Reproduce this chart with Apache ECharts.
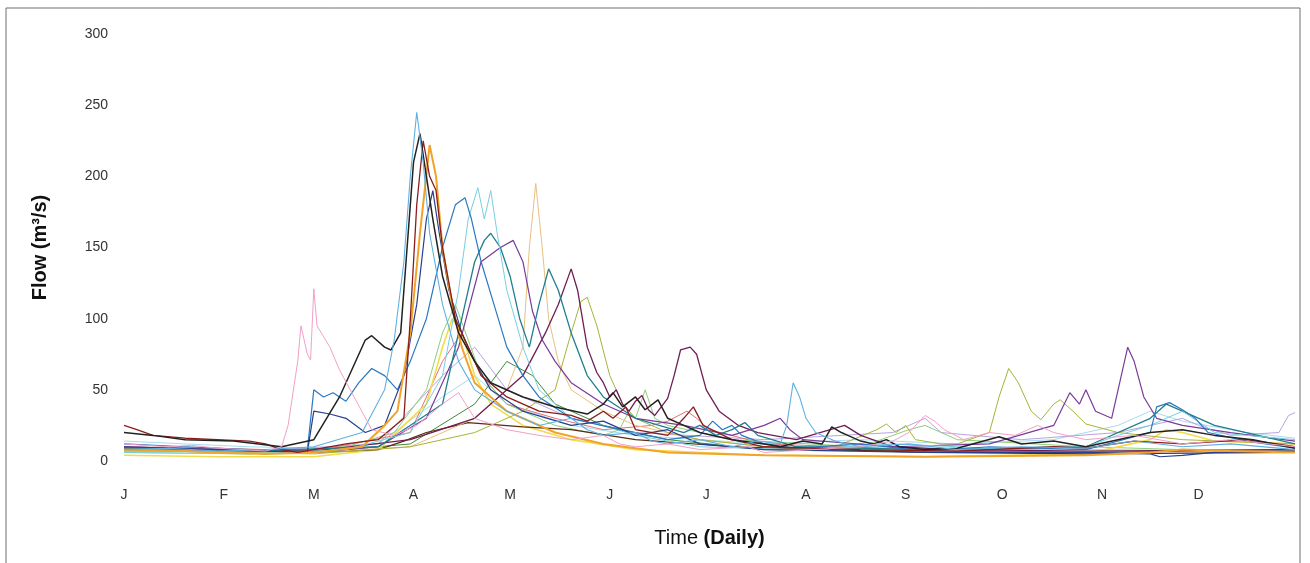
<!DOCTYPE html>
<html>
<head>
<meta charset="utf-8">
<title>Daily flow</title>
<script src="https://cdn.jsdelivr.net/npm/echarts@6/dist/echarts.min.js"></script>
<style>
  html, body { margin: 0; padding: 0; background: #fff; }
  #chart { width: 1310px; height: 563px; }
</style>
</head>
<body>
<div id="chart"></div>
<script>
// month tick labels (day of year where each month starts)
var monthStarts = [1, 32, 60, 91, 121, 152, 182, 213, 244, 274, 305, 335];
var monthLetters = ['J', 'F', 'M', 'A', 'M', 'J', 'J', 'A', 'S', 'O', 'N', 'D'];
var yTicks = [0, 50, 100, 150, 200, 250, 300];

// each year: [day of year, flow m3/s]
var pinkYear = [[1,12],[8,11],[15,10],[22,11],[30,9],[38,8],[45,7],[50,10],[52,25],[55,70],[56,95],[58,75],[59,71],[60,121],[61,95],[65,80],[68,64],[73,43],[78,22],[85,18],[92,25],[100,40],[105,48],[110,30],[120,22],[130,18],[140,15],[150,18],[155,12],[160,10],[170,12],[180,8],[195,10],[200,6],[215,8],[230,10],[240,14],[245,20],[250,32],[253,28],[256,22],[262,15],[270,20],[278,18],[285,25],[290,20],[300,15],[315,18],[330,12],[345,15],[365,10]];
var lightBlueYear = [[1,8],[15,9],[30,7],[45,8],[60,10],[75,20],[82,50],[85,85],[88,140],[90,200],[92,245],[94,210],[96,160],[100,110],[105,70],[110,50],[120,35],[130,25],[140,30],[145,22],[150,18],[160,20],[165,14],[170,12],[180,15],[190,10],[198,14],[205,12],[207,25],[209,55],[211,45],[213,30],[216,20],[222,14],[230,10],[245,12],[260,8],[280,10],[300,9],[315,14],[330,10],[345,12],[365,8]];
var blackYear = [[1,20],[10,18],[20,15],[35,14],[50,10],[60,15],[68,45],[72,65],[76,85],[78,88],[82,80],[84,78],[87,90],[89,150],[91,210],[93,230],[95,200],[97,170],[100,130],[105,90],[110,70],[115,55],[125,45],[135,38],[145,33],[150,40],[153,48],[156,38],[160,45],[163,36],[167,43],[170,30],[175,25],[180,20],[190,15],[200,12],[205,10],[212,14],[218,12],[221,24],[224,20],[226,18],[230,14],[234,12],[238,15],[242,10],[250,8],[260,9],[273,17],[280,12],[290,14],[300,10],[310,15],[320,20],[330,22],[340,18],[352,15],[365,9]];
var darkRedYear = [[1,25],[5,22],[10,18],[20,16],[30,15],[40,14],[45,12],[50,8],[55,6],[60,8],[70,12],[80,15],[88,30],[90,100],[92,180],[94,225],[96,200],[98,190],[100,150],[104,100],[108,80],[112,60],[120,45],[130,35],[140,32],[145,28],[150,35],[153,30],[157,38],[160,22],[170,18],[175,30],[178,38],[181,25],[190,15],[200,10],[230,8],[260,7],[290,10],[300,9],[315,14],[330,12],[350,15],[365,10]];
var orangeYear = [[1,8],[20,7],[30,6],[45,5],[60,6],[75,10],[82,25],[86,35],[90,90],[93,160],[96,222],[98,200],[100,150],[103,110],[106,80],[110,55],[120,35],[135,20],[150,12],[170,6],[200,4],[250,3],[300,4],[320,6],[330,8],[345,7],[365,6]];
var navyYear = [[1,10],[30,8],[58,6],[60,35],[65,33],[70,30],[76,20],[82,25],[88,60],[92,110],[95,170],[97,190],[99,160],[102,120],[106,90],[110,70],[115,50],[125,35],[140,25],[150,28],[160,18],[170,22],[180,12],[200,8],[250,6],[300,6],[320,5],[323,3],[330,4],[340,6],[365,7]];
var blueYear = [[1,12],[20,10],[40,8],[58,8],[60,50],[63,45],[66,48],[70,42],[74,55],[78,65],[82,60],[86,50],[90,70],[95,100],[100,150],[104,180],[107,185],[109,170],[112,140],[116,110],[120,80],[125,60],[130,45],[140,30],[155,22],[170,15],[180,18],[184,28],[187,22],[190,25],[193,18],[200,12],[210,9],[230,12],[250,7],[270,10],[300,8],[320,20],[322,38],[326,41],[330,36],[334,30],[338,20],[350,14],[365,9]];
var cyanYear = [[1,6],[40,5],[70,8],[90,20],[100,60],[105,120],[108,170],[111,192],[113,170],[115,190],[117,160],[120,120],[125,80],[130,50],[140,30],[150,25],[160,18],[180,10],[210,8],[240,12],[270,9],[300,10],[310,18],[320,25],[330,35],[340,20],[365,15]];
var tealYear = [[1,9],[40,7],[80,10],[100,40],[106,100],[110,140],[113,155],[115,160],[118,150],[121,130],[124,100],[127,80],[130,110],[133,135],[136,120],[140,90],[145,60],[150,45],[160,30],[175,20],[180,25],[185,18],[190,22],[194,27],[198,18],[210,10],[250,8],[300,10],[320,30],[325,40],[330,35],[340,25],[365,12]];
var purpleYear = [[1,10],[30,8],[60,6],[80,10],[95,30],[105,80],[112,140],[118,150],[122,155],[125,140],[128,105],[131,85],[135,70],[140,55],[150,40],[160,30],[175,25],[190,18],[200,25],[205,30],[208,22],[212,15],[240,10],[270,12],[290,25],[295,48],[298,40],[300,50],[303,35],[308,30],[311,60],[313,80],[315,70],[318,45],[322,30],[330,25],[345,20],[365,14]];
var maroonYear = [[1,9],[30,8],[60,7],[90,15],[110,30],[125,60],[132,90],[136,110],[140,135],[142,120],[145,80],[148,62],[150,55],[152,45],[154,50],[156,40],[158,35],[160,42],[162,46],[164,36],[166,32],[168,38],[170,44],[172,60],[174,78],[177,80],[179,75],[182,50],[186,35],[192,25],[198,20],[210,15],[225,25],[230,18],[240,10],[260,8],[300,7],[365,8]];
var oliveYear = [[1,8],[30,6],[60,5],[90,10],[110,20],[125,35],[135,50],[140,90],[143,112],[145,115],[148,95],[152,60],[156,40],[160,30],[170,20],[180,15],[200,10],[220,8],[235,22],[238,26],[241,20],[244,25],[247,15],[255,12],[260,12],[270,20],[273,45],[276,65],[279,55],[283,35],[286,29],[290,40],[292,43],[296,35],[300,26],[310,20],[330,15],[365,12]];
var tanYear = [[1,7],[60,6],[90,10],[110,30],[120,50],[125,80],[127,150],[129,195],[131,150],[133,100],[136,70],[140,50],[150,35],[160,25],[180,15],[200,10],[250,8],[300,8],[365,7]];
var yellowYear = [[1,4],[30,3],[60,3],[80,8],[95,40],[100,80],[103,100],[106,90],[110,60],[115,40],[125,25],[140,15],[160,8],[200,4],[250,3],[300,5],[320,15],[325,22],[330,20],[340,14],[365,12]];
var greenYear = [[1,6],[40,5],[70,10],[85,20],[95,50],[100,90],[104,110],[108,85],[112,60],[120,40],[135,25],[150,18],[155,22],[158,35],[160,30],[163,50],[166,30],[170,25],[190,15],[230,10],[245,22],[250,25],[260,15],[300,10],[330,8],[365,7]];
var lavenderYear = [[1,8],[40,7],[80,12],[100,60],[110,80],[120,50],[140,30],[160,20],[200,15],[240,20],[250,30],[255,20],[280,15],[310,20],[330,30],[335,25],[345,18],[360,20],[363,32],[365,34]];
var brownYear = [[1,9],[30,8],[60,6],[80,8],[88,14],[95,20],[108,27],[125,24],[140,22],[160,15],[190,10],[250,6],[300,5],[365,6]];
var paleCyanYear = [[1,14],[20,12],[40,10],[60,9],[80,12],[100,45],[110,60],[120,40],[140,25],[160,18],[180,15],[200,12],[230,15],[260,12],[290,15],[310,25],[320,35],[330,28],[350,20],[365,16]];
var salmonYear = [[1,10],[30,9],[60,7],[90,20],[100,70],[106,90],[112,60],[120,40],[135,30],[150,22],[165,25],[170,28],[176,35],[179,30],[183,22],[200,12],[250,8],[300,6],[365,8]];
var darkGreenYear = [[1,7],[60,6],[90,12],[110,40],[120,70],[128,60],[135,40],[150,25],[170,15],[200,8],[300,6],[365,8]];

var years = [
  { data: paleCyanYear, color: '#a8dcee', width: 1 },
  { data: lavenderYear, color: '#b9a3e0', width: 1 },
  { data: salmonYear, color: '#e8707a', width: 1 },
  { data: darkGreenYear, color: '#3f8a3a', width: 1 },
  { data: greenYear, color: '#8cd07a', width: 1 },
  { data: yellowYear, color: '#f2dc4a', width: 1.6 },
  { data: brownYear, color: '#5b2a10', width: 1.2 },
  { data: tanYear, color: '#e9c07e', width: 1 },
  { data: oliveYear, color: '#a6b437', width: 1 },
  { data: maroonYear, color: '#6e1e55', width: 1.3 },
  { data: purpleYear, color: '#7a3a9a', width: 1.2 },
  { data: tealYear, color: '#1f7f8c', width: 1.3 },
  { data: cyanYear, color: '#78cfe0', width: 1 },
  { data: blueYear, color: '#2a78c0', width: 1.2 },
  { data: navyYear, color: '#283f8f', width: 1.2 },
  { data: orangeYear, color: '#f2a32a', width: 2 },
  { data: darkRedYear, color: '#8a1c1c', width: 1.3 },
  { data: blackYear, color: '#222222', width: 1.5 },
  { data: lightBlueYear, color: '#5fb0e0', width: 1.1 },
  { data: pinkYear, color: '#f2a0c8', width: 1 }
];

var chart = echarts.init(document.getElementById('chart'));

var option = {
  animation: false,
  backgroundColor: '#fff',
  graphic: [{
    type: 'rect',
    shape: { x: 6, y: 8, width: 1294, height: 600 },
    style: { fill: 'none', stroke: '#66707a', lineWidth: 1 },
    z: -1
  }],
  grid: { left: 124, right: 15, top: 34, bottom: 102 },
  xAxis: {
    type: 'value',
    min: 1,
    max: 365,
    name: '{n|Time }{b|(Daily)}',
    nameLocation: 'middle',
    nameGap: 67,
    nameTextStyle: {
      rich: {
        n: { fontSize: 20, color: '#111', fontFamily: 'Liberation Sans, Arial, sans-serif' },
        b: { fontSize: 20, color: '#111', fontWeight: 'bold', fontFamily: 'Liberation Sans, Arial, sans-serif' }
      }
    },
    axisLine: { show: false },
    axisTick: { show: false },
    splitLine: { show: false },
    axisLabel: {
      customValues: monthStarts,
      margin: 27,
      fontSize: 14,
      color: '#333',
      fontFamily: 'Liberation Sans, Arial, sans-serif',
      formatter: function (v) {
        var i = monthStarts.indexOf(v);
        return i >= 0 ? monthLetters[i] : '';
      }
    }
  },
  yAxis: {
    type: 'value',
    min: 0,
    max: 300,
    interval: 50,
    name: 'Flow (m\u00b3/s)',
    nameLocation: 'middle',
    nameGap: 74,
    nameTextStyle: { fontSize: 20, fontWeight: 'bold', color: '#111', fontFamily: 'Liberation Sans, Arial, sans-serif' },
    axisLine: { show: false },
    axisTick: { show: false },
    splitLine: { show: false },
    axisLabel: {
      customValues: yTicks,
      margin: 16,
      fontSize: 14,
      color: '#333',
      fontFamily: 'Liberation Sans, Arial, sans-serif'
    }
  },
  series: years.map(function (y) {
    return {
      type: 'line',
      data: y.data,
      showSymbol: false,
      lineStyle: { color: y.color, width: y.width },
      itemStyle: { color: y.color }
    };
  })
};

chart.setOption(option);
</script>
</body>
</html>
